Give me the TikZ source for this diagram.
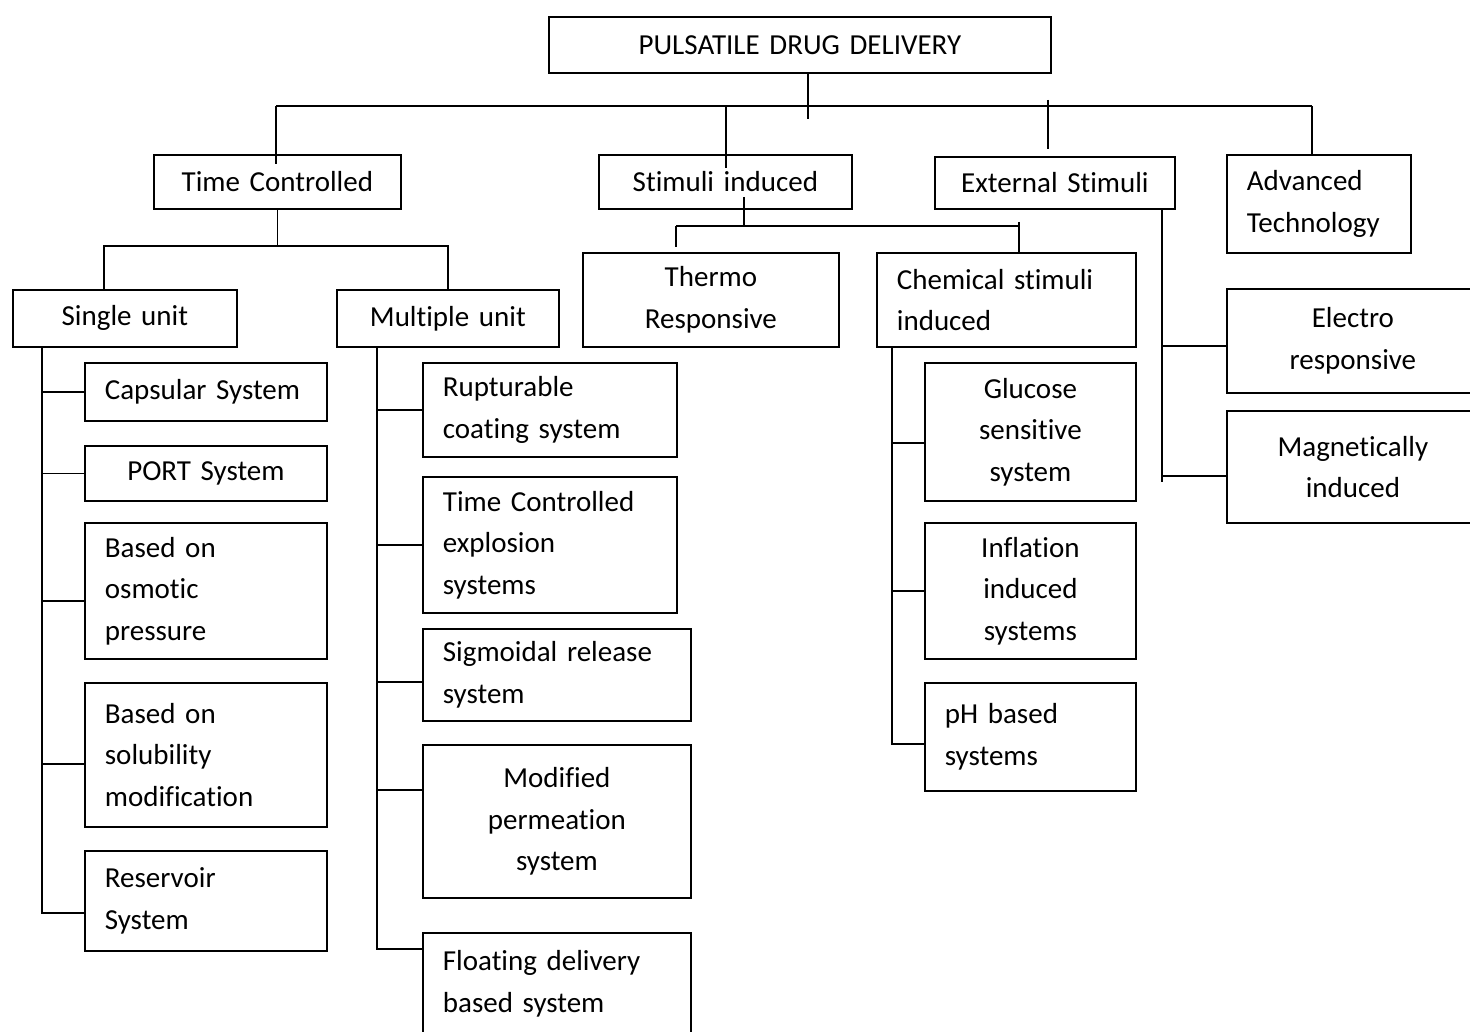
\documentclass[tikz,border=0pt]{standalone}
\usepackage{fontspec}
\setmainfont{Carlito}[Ligatures=CommonOff]
\usetikzlibrary{positioning}

\tikzset{
  box/.style={draw, line width=1.8pt, inner xsep=20pt, inner ysep=0pt, anchor=north west,
    font=\fontsize{29pt}{41.5pt}\selectfont},
  cbox/.style 2 args={box, text width=#1, minimum height=#2, align=center},
  lbox/.style 2 args={box, text width=#1, minimum height=#2, align=left},
  link/.style={line width=1.8pt}
}

\begin{document}
\begin{tikzpicture}[x=1pt,y=-1pt]
  \useasboundingbox (0,0) rectangle (1470,1032);
  \clip (0,0) rectangle (1470,1032);

  % boxes
  \node[cbox={462pt}{56pt}] (pdd) at (548,16) {PULSATILE DRUG DELIVERY};
  \node[cbox={207pt}{54pt}] (tc) at (153,154) {Time Controlled};
  \node[cbox={213pt}{54pt}] (si) at (598,154) {Stimuli induced};
  \node[cbox={200pt}{52pt}] (es) at (934,156) {External Stimuli};
  \node[lbox={144pt}{98pt}] (at) at (1226,154) {Advanced\\Technology};
  \node[cbox={184pt}{57pt}] (su) at (12,289) {Single unit};
  \node[cbox={182pt}{57pt}] (mu) at (336,289) {Multiple unit};
  \node[cbox={216pt}{94pt}] (th) at (582,252) {Thermo\\Responsive};
  \node[lbox={219pt}{94pt}] (ch) at (876,252) {Chemical stimuli\\induced};

  \node[lbox={202pt}{58pt}] (cap) at (84,362) {Capsular System};
  \node[cbox={202pt}{55pt}] (port) at (84,445) {PORT System};
  \node[lbox={202pt}{136pt}] (osm) at (84,522) {Based on\\osmotic\\pressure};
  \node[lbox={202pt}{144pt}] (sol) at (84,682) {Based on\\solubility\\modification};
  \node[lbox={202pt}{100pt}] (res) at (84,850) {Reservoir\\System};

  \node[lbox={214pt}{94pt}] (rup) at (422,362) {Rupturable\\coating system};
  \node[lbox={214pt}{136pt}] (tce) at (422,476) {Time Controlled\\explosion\\systems};
  \node[lbox={228pt}{92pt}] (sig) at (422,628) {Sigmoidal release\\system};
  \node[cbox={228pt}{153pt}] (mod) at (422,744) {Modified\\permeation\\system};
  \node[lbox={228pt}{102pt}] (flo) at (422,932) {Floating delivery\\based system};

  \node[cbox={171pt}{138pt}] (glu) at (924,362) {Glucose\\sensitive\\system};
  \node[cbox={171pt}{136pt}] (inf) at (924,522) {Inflation\\induced\\systems};
  \node[lbox={171pt}{108pt}] (ph) at (924,682) {pH based\\systems};

  \node[cbox={212pt}{104pt}] (ele) at (1226,288) {Electro\\responsive};
  \node[cbox={212pt}{112pt}] (mag) at (1226,410) {Magnetically\\induced};

  % connectors
  \begin{scope}[link]
    \coordinate (hubL) at (276,106);
    \coordinate (hubR) at (1312,106);
    \coordinate (hubC) at (808,119);
    \coordinate (siTop) at (726,106);
    \coordinate (esTop) at (1048,100);
    \coordinate (esEnd) at (1048,149);
    \draw (pdd.south -| hubC) -- (hubC);
    \draw (hubL) -- (hubR);
    \draw (hubL) -- (hubL |- tc.north) -- ++(0,10);
    \draw (siTop) -- (siTop |- si.north) -- ++(0,14);
    \draw (esTop) -- (esEnd);
    \draw (hubR) -- (hubR |- at.north);

    \coordinate (tcj) at (276,246);
    \coordinate (suj) at (104,246);
    \coordinate (muj) at (448,246);
    \draw (tc.south) -- (tc.south |- tcj);
    \draw (suj |- su.north) -- (suj) -- (muj) -- (muj |- mu.north);

    \coordinate (sij) at (744,226);
    \coordinate (thj) at (676,226);
    \coordinate (chj) at (1019,226);
    \draw (sij |- si.south) ++(0,-13) -- (sij);
    \draw (thj) -- (chj);
    \draw (thj |- th.north) ++(0,-5) -- (thj);
    \draw (chj) ++(0,-4) -- (chj |- ch.north);

    % single unit
    \coordinate (sus) at (42,913);
    \coordinate (osmb) at (42,601);
    \coordinate (solb) at (42,764);
    \draw (sus |- su.south) -- (sus) -- (sus -| res.west);
    \draw (cap.west) -- (cap.west -| sus);
    \draw (port.west) -- (port.west -| sus);
    \draw (osmb) -- (osmb -| osm.west);
    \draw (solb) -- (solb -| sol.west);

    % multiple unit
    \coordinate (mus) at (377,949);
    \coordinate (sigb) at (377,682);
    \coordinate (modb) at (377,790);
    \draw (mus |- mu.south) -- (mus) -- (mus -| flo.west);
    \draw (rup.west) -- (rup.west -| mus);
    \draw (tce.west) -- (tce.west -| mus);
    \draw (sigb) -- (sigb -| sig.west);
    \draw (modb) -- (modb -| mod.west);

    % chemical stimuli
    \coordinate (chs) at (892,744);
    \coordinate (glub) at (892,443);
    \draw (chs |- ch.south) -- (chs) -- (chs -| ph.west);
    \draw (glub) -- (glub -| glu.west);
    \draw (inf.west) -- (inf.west -| chs);

    % external stimuli
    \coordinate (ess) at (1162,482);
    \coordinate (eleb) at (1162,346);
    \coordinate (magb) at (1162,476);
    \draw (ess |- es.south) -- (ess);
    \draw (eleb) -- (eleb -| ele.west);
    \draw (magb) -- (magb -| mag.west);
  \end{scope}
\end{tikzpicture}
\end{document}
